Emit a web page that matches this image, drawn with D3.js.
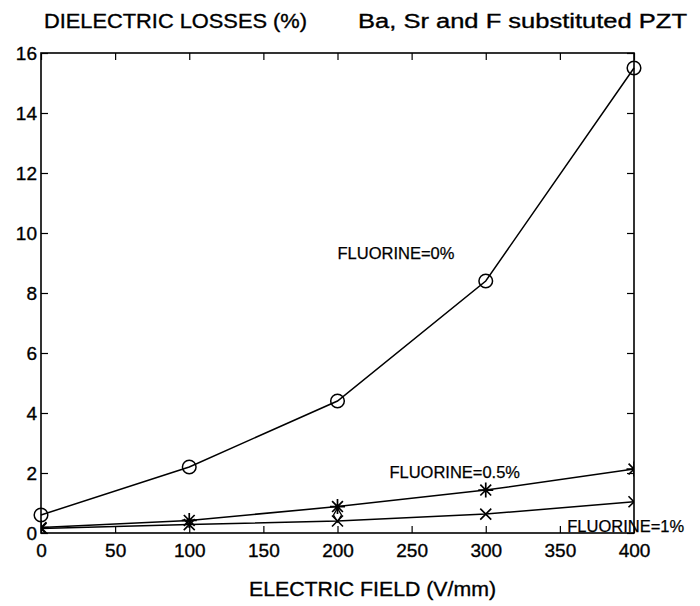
<!DOCTYPE html>
<html>
<head>
<meta charset="utf-8">
<script src="https://cdn.jsdelivr.net/npm/d3@7"></script>
<style>
  body { margin: 0; background: #fff; }
  text { font-family: "Liberation Sans", Arial, sans-serif; fill: #000; stroke: #000; stroke-width: 0.35px; }
</style>
</head>
<body>
<div id="chart"></div>
<script>
// data
const field = [0, 100, 200, 300, 400];
const fluorine0 = [0.6, 2.2, 4.4, 8.4, 15.5];
const fluorine05 = [0.18, 0.42, 0.88, 1.43, 2.13];
const fluorine1 = [0.15, 0.28, 0.4, 0.63, 1.04];
const strayPoint = [[200, 0.6]];
const xTicks = [0, 50, 100, 150, 200, 250, 300, 350, 400];
const yTicks = [0, 2, 4, 6, 8, 10, 12, 14, 16];
const labels = [
  { text: "FLUORINE=0%", x: 200, y: 9.13 },
  { text: "FLUORINE=0.5%", x: 235, y: 1.85 },
  { text: "FLUORINE=1%", x: 355, y: 0.02 }
];

const width = 700;
const height = 606;
const margin = { top: 53, right: 66, bottom: 73, left: 41 };
const w = width - margin.left - margin.right;
const h = height - margin.top - margin.bottom;

const svg = d3.select("#chart").append("svg")
  .attr("width", width)
  .attr("height", height);

svg.append("rect").attr("width", width).attr("height", height).attr("fill", "#fff");

const g = svg.append("g").attr("transform", `translate(${margin.left},${margin.top})`);

const x = d3.scaleLinear().domain([0, 400]).range([0, w]);
const y = d3.scaleLinear().domain([0, 16]).range([h, 0]);

g.append("clipPath").attr("id", "plot-clip")
  .append("rect").attr("width", w).attr("height", h);

// axes, ticks point inward on all four sides
const tickLen = 7;
const tickFont = 19;

const bottom = g.append("g").attr("transform", `translate(0,${h})`)
  .call(d3.axisBottom(x).tickValues(xTicks).tickSizeInner(-tickLen).tickSizeOuter(0).tickPadding(11));
const left = g.append("g")
  .call(d3.axisLeft(y).tickValues(yTicks).tickSizeInner(-tickLen).tickSizeOuter(0).tickPadding(4));
g.append("g")
  .call(d3.axisTop(x).tickValues(xTicks).tickSizeInner(-tickLen).tickSizeOuter(0).tickFormat(""));
g.append("g").attr("transform", `translate(${w},0)`)
  .call(d3.axisRight(y).tickValues(yTicks).tickSizeInner(-tickLen).tickSizeOuter(0).tickFormat(""));

g.selectAll(".domain").remove();
g.selectAll(".tick line").attr("stroke", "#000").attr("stroke-width", 1.2);
[bottom, left].forEach((a) => a.selectAll("text")
  .style("font-family", '"Liberation Sans", Arial, sans-serif')
  .style("font-size", tickFont + "px")
  .attr("fill", "#000"));

g.append("rect")
  .attr("width", w).attr("height", h)
  .attr("fill", "none").attr("stroke", "#000").attr("stroke-width", 1.6);

// series
const line = d3.line().x((d) => x(d[0])).y((d) => y(d[1]));
const pts = (vals) => field.map((f, i) => [f, vals[i]]);

[fluorine0, fluorine05, fluorine1].forEach((vals) => {
  g.append("path")
    .datum(pts(vals))
    .attr("d", line)
    .attr("fill", "none")
    .attr("stroke", "#000")
    .attr("stroke-width", 1.5);
});

// circles (not clipped)
g.selectAll(".circ").data(pts(fluorine0)).enter().append("circle")
  .attr("cx", (d) => x(d[0])).attr("cy", (d) => y(d[1])).attr("r", 6.8)
  .attr("fill", "none").attr("stroke", "#000").attr("stroke-width", 1.5);

const clipped = g.append("g").attr("clip-path", "url(#plot-clip)");

// asterisks
const s = 7.5;
clipped.selectAll(".star").data(pts(fluorine05)).enter().append("path")
  .attr("transform", (d) => `translate(${x(d[0])},${y(d[1])})`)
  .attr("d", `M${-s},0H${s}M0,${-s}V${s}M${-s * 0.72},${-s * 0.72}L${s * 0.72},${s * 0.72}M${-s * 0.72},${s * 0.72}L${s * 0.72},${-s * 0.72}`)
  .attr("stroke", "#000").attr("stroke-width", 1.7);

// crosses
const c = 5.5;
clipped.selectAll(".cross").data(pts(fluorine1)).enter().append("path")
  .attr("transform", (d) => `translate(${x(d[0])},${y(d[1])})`)
  .attr("d", `M${-c},${-c}L${c},${c}M${-c},${c}L${c},${-c}`)
  .attr("stroke", "#000").attr("stroke-width", 1.6);

// stray diamond near 200
g.selectAll(".diamond").data(strayPoint).enter().append("path")
  .attr("transform", (d) => `translate(${x(d[0])},${y(d[1])})`)
  .attr("d", d3.symbol(d3.symbolDiamond, 55))
  .attr("fill", "none").attr("stroke", "#000").attr("stroke-width", 1.3);

// in-plot labels
g.selectAll(".lab").data(labels).enter().append("text")
  .attr("x", (d) => x(d.x)).attr("y", (d) => y(d.y))
  .attr("font-size", 16.5)
  .style("stroke-width", "0.25px")
  .text((d) => d.text);

// titles
svg.append("text").attr("x", 44).attr("y", 27.5).attr("font-size", 20)
  .attr("textLength", 263).attr("lengthAdjust", "spacingAndGlyphs")
  .text("DIELECTRIC LOSSES  (%)");
svg.append("text").attr("x", 358).attr("y", 27.5).attr("font-size", 20)
  .attr("textLength", 329).attr("lengthAdjust", "spacingAndGlyphs")
  .text("Ba, Sr and F substituted PZT");
svg.append("text").attr("x", 249).attr("y", 596).attr("font-size", 20)
  .attr("textLength", 247).attr("lengthAdjust", "spacingAndGlyphs")
  .text("ELECTRIC FIELD  (V/mm)");
</script>
</body>
</html>
